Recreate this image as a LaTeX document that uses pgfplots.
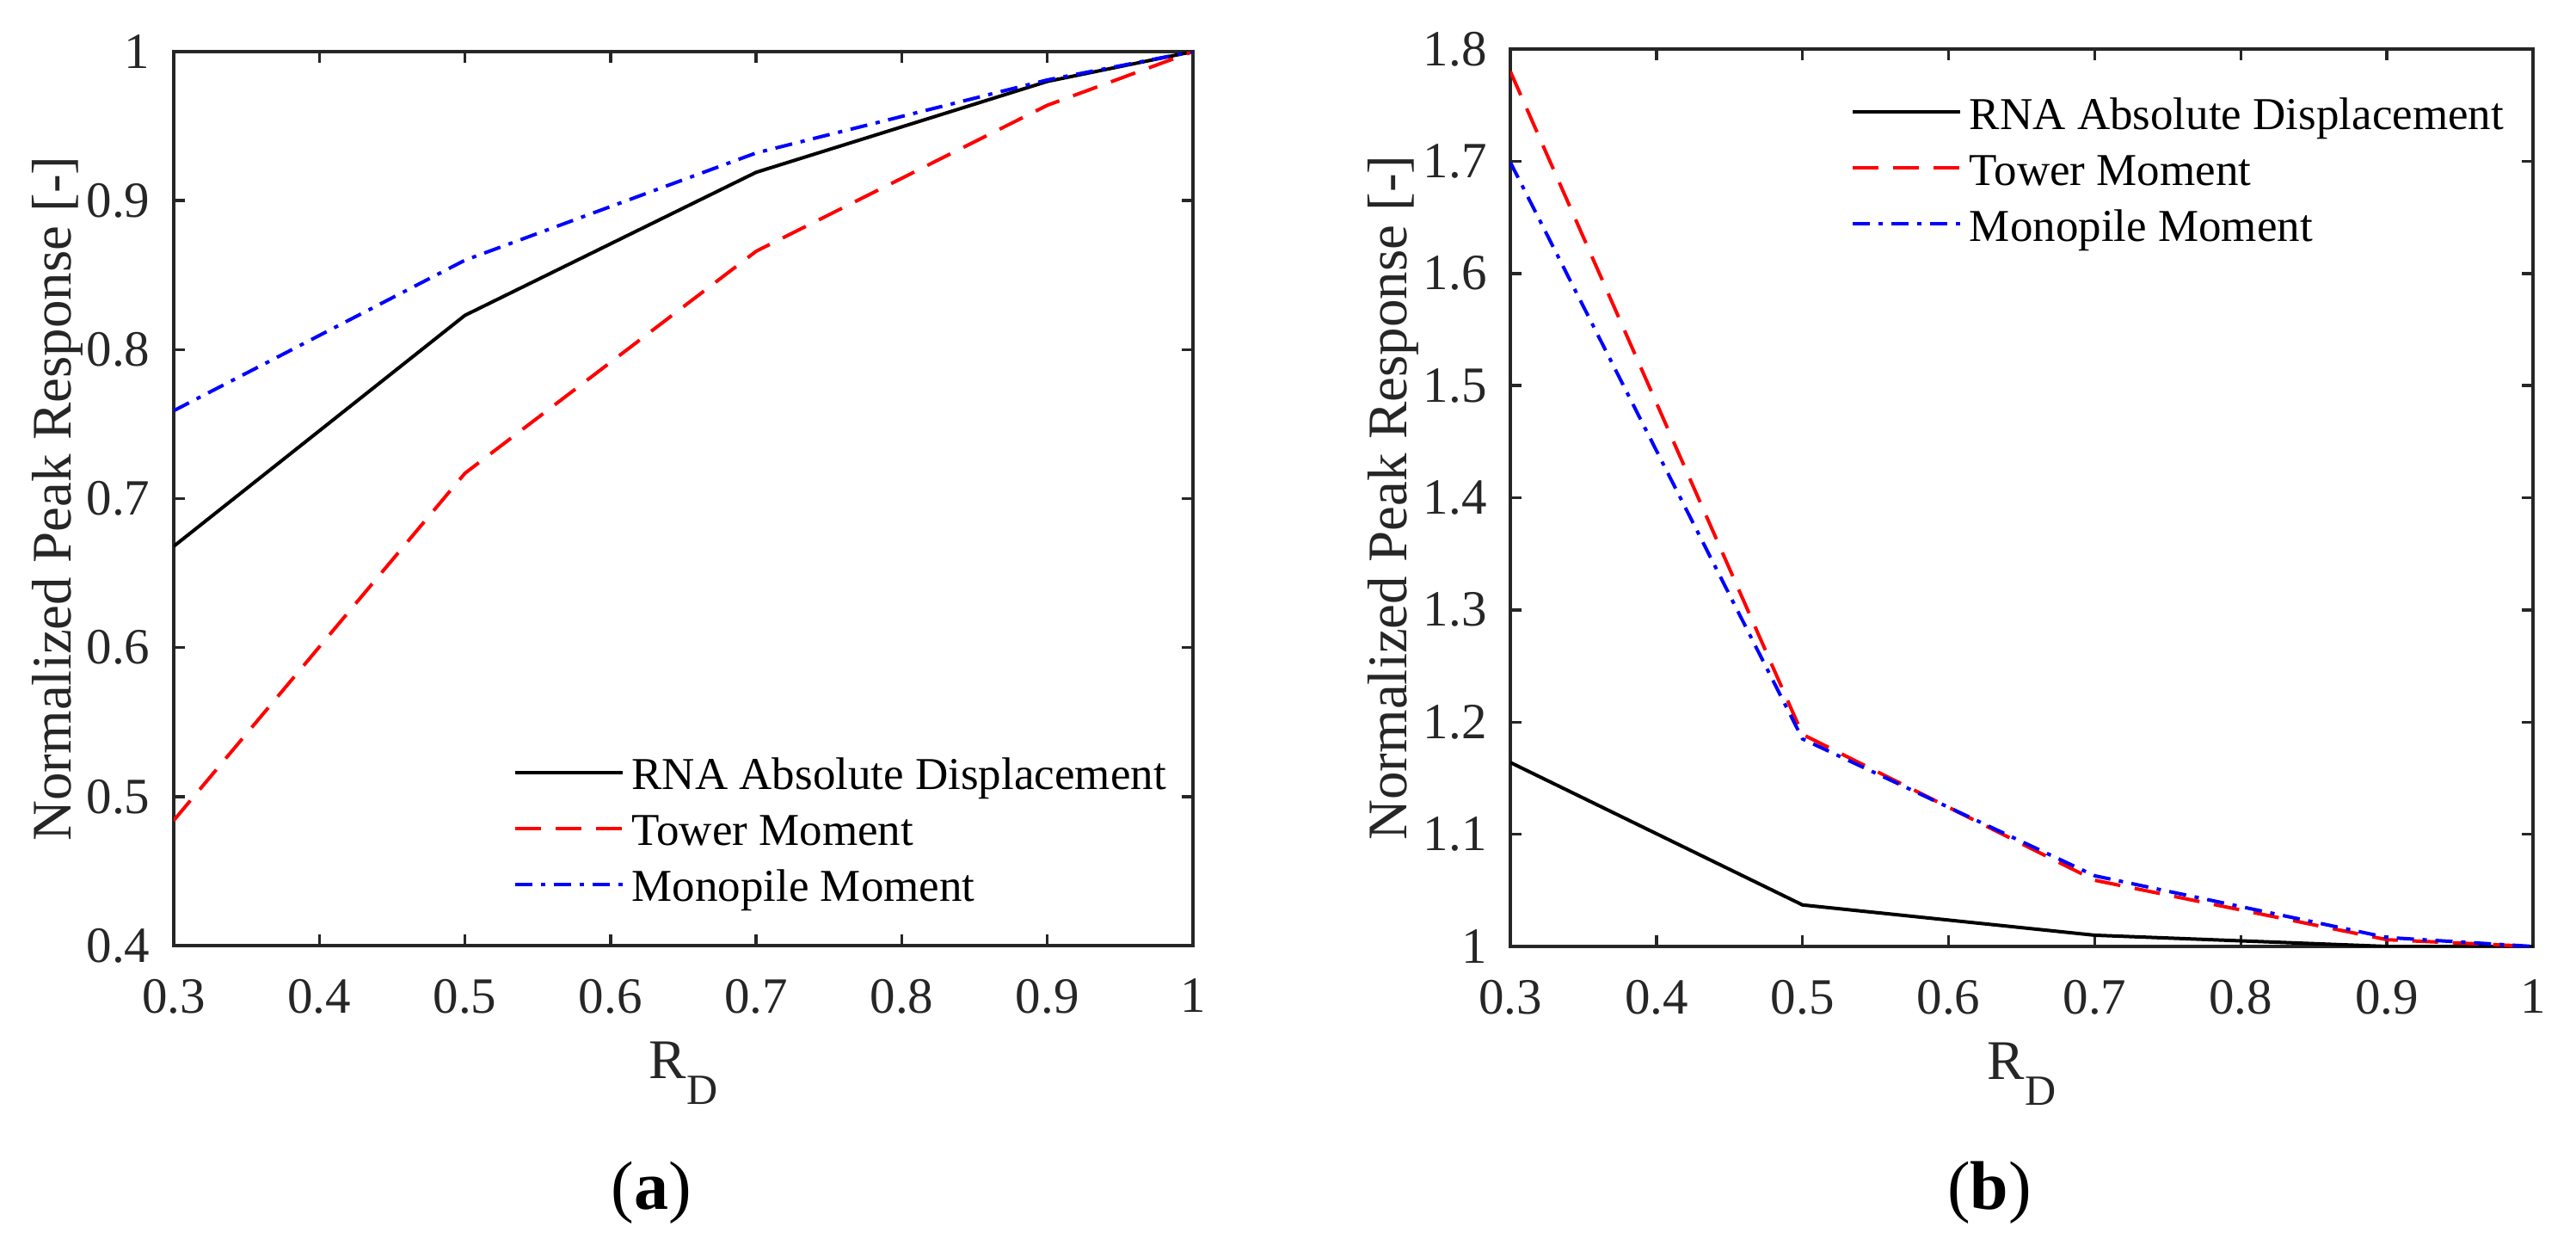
\documentclass[border=0pt]{standalone}
\usepackage{pgfplots}
\pgfplotsset{compat=1.18}
\usepackage{fontspec}
\setmainfont{Liberation Serif}
\definecolor{mgray}{rgb}{0.15,0.15,0.15}
\pgfplotsset{
  myaxis/.style={
    scale only axis,
    anchor=south west,
    xmin=0.3, xmax=1,
    xtick={0.3,0.4,0.5,0.6,0.7,0.8,0.9,1},
    xticklabels={0.3,0.4,0.5,0.6,0.7,0.8,0.9,1},
    tick align=inside,
    major tick length=2.6pt,
    axis line style={mgray, line width=0.7pt},
    every tick/.style={mgray, line width=0.7pt},
    /pgf/number format/assume math mode=true,
    ticklabel style={font=\rmfamily\fontsize{11.8}{14}\selectfont, text=mgray, inner sep=0pt},
    xticklabel style={yshift=-7.6pt},
    yticklabel style={xshift=-5.3pt},
    label style={font=\rmfamily\fontsize{13}{15}\selectfont, text=mgray, inner sep=0pt},
    xlabel={R\raisebox{-6pt}{\fontsize{10}{12}\selectfont D}},
    ylabel={Normalized Peak Response [-]},
    xlabel style={at={(axis description cs:0.5,0)}, anchor=north, yshift=-22.2pt},
    ylabel style={at={(axis description cs:-0.14,0.5)}, anchor=north},
    legend cell align=left,
    legend style={draw=none, fill=none, inner sep=0pt, outer sep=0pt,
      row sep=0pt, column sep=0pt, anchor=north west,
      font=\rmfamily\fontsize{10.6}{12}\selectfont,
      nodes={inner xsep=1.8pt, inner ysep=1pt, text height=9.5pt, text depth=1.5pt}},
    legend image code/.code={\draw[##1] (0pt,0pt) -- (25pt,0pt);},
  },
  s1/.style={black, line width=0.8pt},
  s2/.style={red, line width=0.8pt, dash pattern=on 6pt off 3.4pt},
  s3/.style={blue, line width=0.8pt, dash pattern=on 4pt off 2pt on 1pt off 2pt},
}
\begin{document}
\begin{tikzpicture}
\path[use as bounding box] (0,0) rectangle (599pt,289.2pt);
\begin{axis}[myaxis,
  at={(40.4pt,69.4pt)}, width=237pt, height=207.8pt,
  ymin=0.4, ymax=1,
  ytick={0.4,0.5,0.6,0.7,0.8,0.9,1},
  yticklabels={0.4,0.5,0.6,0.7,0.8,0.9,1},
  legend style={at={(axis description cs:0.333,0.225)}},
]
\addplot[s1] coordinates {(0.3,0.668) (0.5,0.823) (0.7,0.919) (0.9,0.980) (1,1)};
\addplot[s2] coordinates {(0.3,0.484) (0.5,0.717) (0.7,0.866) (0.9,0.964) (1,1)};
\addplot[s3] coordinates {(0.3,0.759) (0.5,0.860) (0.7,0.932) (0.9,0.981) (1,1)};
\legend{RNA Absolute Displacement, Tower Moment, Monopile Moment}
\end{axis}
\begin{axis}[myaxis,
  at={(351.2pt,69.2pt)}, width=237.8pt, height=208.6pt,
  ymin=1, ymax=1.8,
  ytick={1,1.1,1.2,1.3,1.4,1.5,1.6,1.7,1.8},
  yticklabels={1,1.1,1.2,1.3,1.4,1.5,1.6,1.7,1.8},
  legend style={at={(axis description cs:0.333,0.961)}},
]
\addplot[s1] coordinates {(0.3,1.164) (0.5,1.037) (0.7,1.010) (0.9,1.000) (1,1)};
\addplot[s2] coordinates {(0.3,1.780) (0.5,1.189) (0.7,1.059) (0.9,1.006) (1,1)};
\addplot[s3] coordinates {(0.3,1.699) (0.5,1.185) (0.7,1.063) (0.9,1.008) (1,1)};
\legend{RNA Absolute Displacement, Tower Moment, Monopile Moment}
\end{axis}
\node[font=\fontsize{16}{18}\selectfont, inner sep=0pt, anchor=base] at (151.5pt,8.2pt) {(\textbf{a})};
\node[font=\fontsize{16}{18}\selectfont, inner sep=0pt, anchor=base] at (462.6pt,8.2pt) {(\textbf{b})};
\end{tikzpicture}
\end{document}
